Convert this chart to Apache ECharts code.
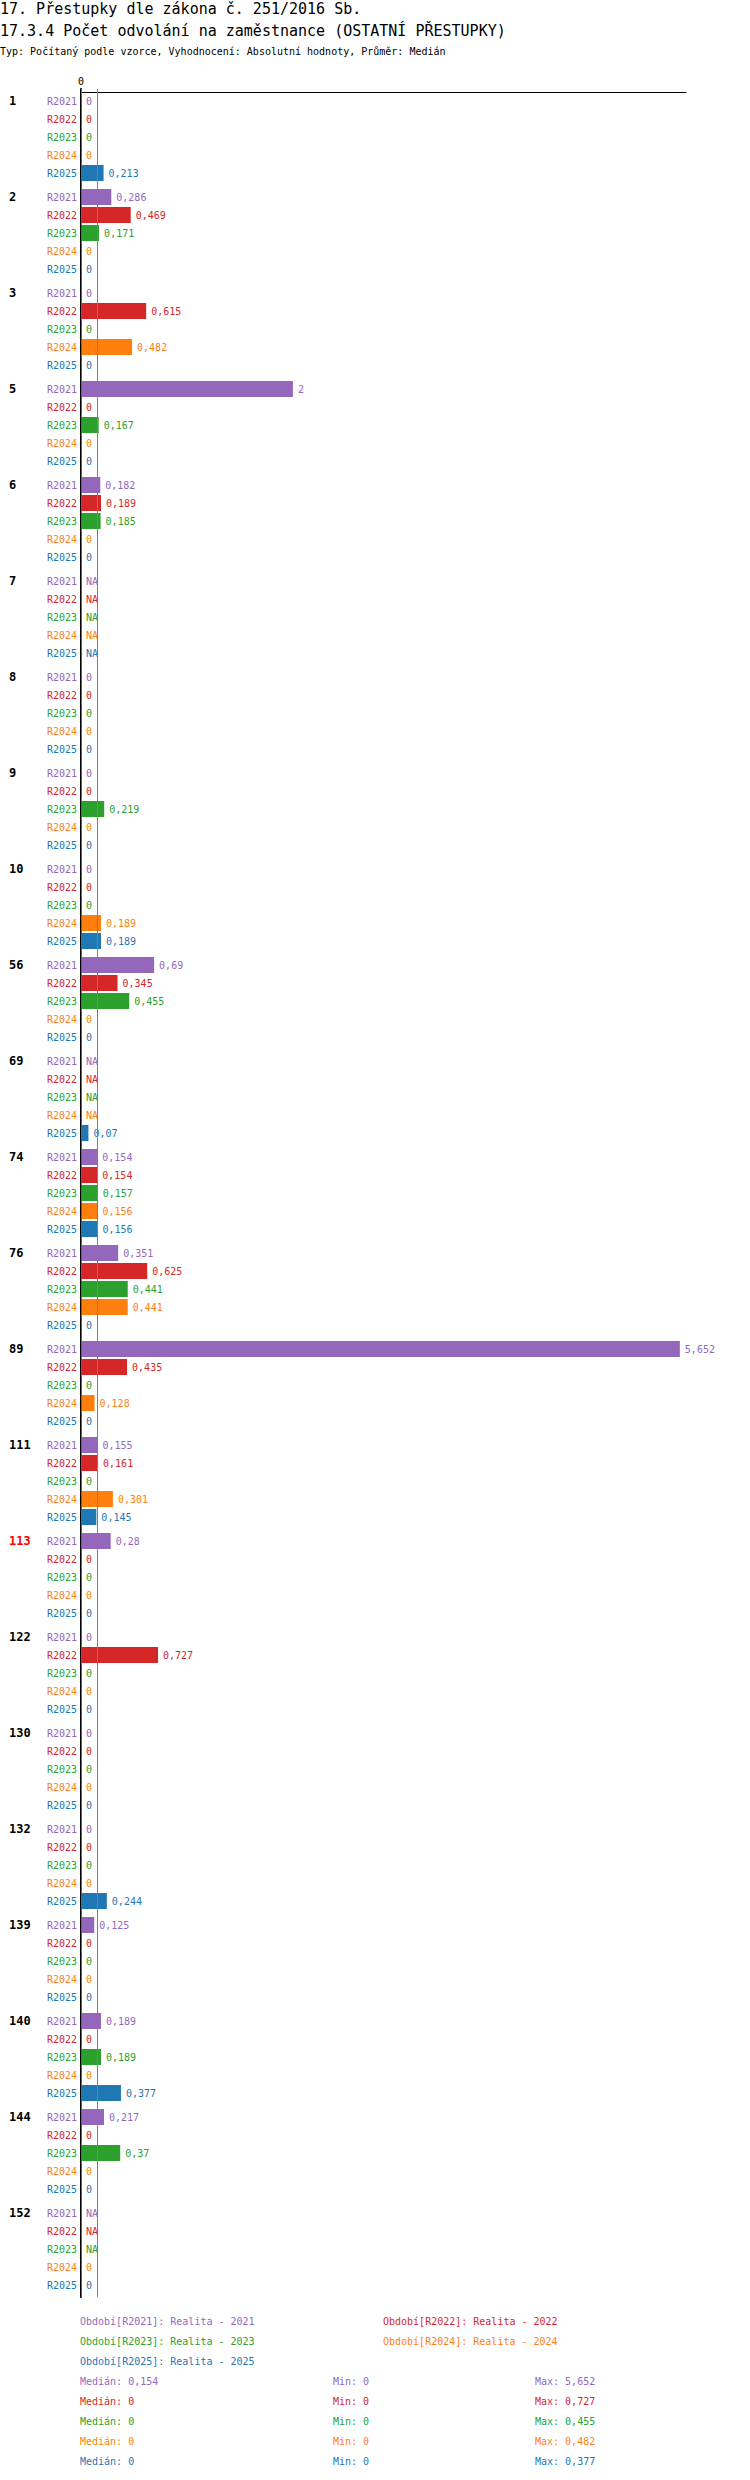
<!DOCTYPE html>
<html>
<head>
<meta charset="utf-8">
<script src="https://cdn.jsdelivr.net/npm/echarts@6/dist/echarts.min.js"></script>
<style>
body{margin:0;background:#fff;}
#chart{width:750px;height:2480px;}
</style>
</head>
<body>
<div id="chart"></div>
<script>
var groups = ['1','2','3','5','6','7','8','9','10','56','69','74','76','89','111','113','122','130','132','139','140','144','152'];
var years = ['R2021','R2022','R2023','R2024','R2025'];
var yearNames = ['Realita - 2021','Realita - 2022','Realita - 2023','Realita - 2024','Realita - 2025'];
// null = NA
var r2021 = [0,0.286,0,2,0.182,null,0,0,0,0.69,null,0.154,0.351,5.652,0.155,0.28,0,0,0,0.125,0.189,0.217,null];
var r2022 = [0,0.469,0.615,0,0.189,null,0,0,0,0.345,null,0.154,0.625,0.435,0.161,0,0.727,0,0,0,0,0,null];
var r2023 = [0,0.171,0,0.167,0.185,null,0,0.219,0,0.455,null,0.157,0.441,0,0,0,0,0,0,0,0.189,0.37,null];
var r2024 = [0,0,0.482,0,0,null,0,0,0.189,0,null,0.156,0.441,0.128,0.301,0,0,0,0,0,0,0,0];
var r2025 = [0.213,0,0,0,0,null,0,0,0.189,0,0.07,0.156,0,0,0.145,0,0,0,0.244,0,0.377,0,0];
var medians = [0.154,0,0,0,0];
var mins = [0,0,0,0,0];
var maxs = [5.652,0.727,0.455,0.482,0.377];
var redGroups = ['113'];

var colors = ['#9467bd','#d62728','#2ca02c','#ff7f0e','#1f77b4'];
var allSeries = [r2021,r2022,r2023,r2024,r2025];
var MONO = '"DejaVu Sans Mono", monospace';
var ROW = 18;

function fmt(v){ return String(v).replace('.', ','); }

function makeRender(yi){
	return function(params, api){
		var g = api.value(1);
		var v = api.value(0);
		var base = api.coord([0, g]);
		var yc = base[1] + (yi - 2) * ROW;
		var col = colors[yi];
		var kids = [];
		var endX = base[0];
		var txt = 'NA';
		if (v != null && !isNaN(v)) {
			txt = fmt(v);
			if (v > 0) {
				var end = api.coord([v, g]);
				kids.push({type:'rect', shape:{x:base[0]+1, y:yc-8, width:end[0]-base[0]-1, height:16}, style:{fill:col}});
				endX = end[0];
			}
		}
		kids.push({type:'text', z2:5, style:{text:txt, x:endX+4, y:yc, fill:col, fontSize:10, fontFamily:MONO,
			textAlign:'left', textVerticalAlign:'middle', backgroundColor:'#fff', padding:[2,1]}});
		kids.push({type:'text', style:{text:years[yi], x:base[0]-4, y:yc, fill:col, fontSize:10, fontFamily:MONO,
			textAlign:'right', textVerticalAlign:'middle'}});
		if (yi === 0) {
			// group name sits on the first row of its group
			var name = groups[g];
			kids.push({type:'text', style:{text:name, x:base[0]-72, y:yc,
				fill:redGroups.indexOf(name) >= 0 ? '#ff0000' : '#000',
				fontSize:12, fontWeight:'bold', fontFamily:MONO, textAlign:'left', textVerticalAlign:'middle'}});
		}
		return {type:'group', children:kids};
	};
}

var series = [];
allSeries.forEach(function(arr, yi){
	series.push({
		type:'line', name:years[yi], data:[], z:1, silent:true,
		markLine:{silent:true, symbol:'none', label:{show:false},
			lineStyle:{color:colors[yi], type:'solid', width:1},
			data:[{xAxis:medians[yi]}]}
	});
});
allSeries.forEach(function(arr, yi){
	series.push({
		type:'custom', name:years[yi], z:3,
		encode:{x:0, y:1},
		data:arr.map(function(v, gi){ return [v, gi]; }),
		renderItem:makeRender(yi)
	});
});

// texts above and below the chart
var gfx = [];
function addText(t, x, y, col, size){
	gfx.push({type:'text', left:x, top:y, style:{text:t, fill:col, fontSize:size, fontFamily:MONO}});
}
addText('17. Přestupky dle zákona č. 251/2016 Sb.', 0, 1, '#000', 15);
addText('17.3.4 Počet odvolání na zaměstnance (OSTATNÍ PŘESTUPKY)', 0, 23, '#000', 15);
addText('Typ: Počítaný podle vzorce, Vyhodnocení: Absolutní hodnoty, Průměr: Medián', 0, 46, '#000', 10);

var legX = [80, 383];
years.forEach(function(y, yi){
	addText('Období[' + y + ']: ' + yearNames[yi], legX[yi % 2], 2316 + Math.floor(yi / 2) * 20, colors[yi], 10);
});
years.forEach(function(y, yi){
	var top = 2376 + yi * 20;
	addText('Medián: ' + fmt(medians[yi]), 80, top, colors[yi], 10);
	addText('Min: ' + fmt(mins[yi]), 333, top, colors[yi], 10);
	addText('Max: ' + fmt(maxs[yi]), 535, top, colors[yi], 10);
});

var chart = echarts.init(document.getElementById('chart'), null, {renderer:'svg'});
chart.setOption({
	animation:false,
	backgroundColor:'#fff',
	grid:{left:81, top:89, width:605, height:2208},
	xAxis:{
		type:'value', position:'top', min:0, max:5.71, interval:5.71, offset:-3,
		axisLine:{show:true, lineStyle:{color:'#000', width:1}},
		axisTick:{show:false}, splitLine:{show:false},
		axisLabel:{margin:6, color:'#000', fontSize:10, fontFamily:MONO,
			formatter:function(v){ return v === 0 ? '0' : ''; }}
	},
	yAxis:{
		type:'category', inverse:true, data:groups,
		axisLine:{show:true, lineStyle:{color:'#000', width:2}},
		axisTick:{show:false}, splitLine:{show:false},
		axisLabel:{show:false}
	},
	graphic:gfx,
	series:series
});
</script>
</body>
</html>
